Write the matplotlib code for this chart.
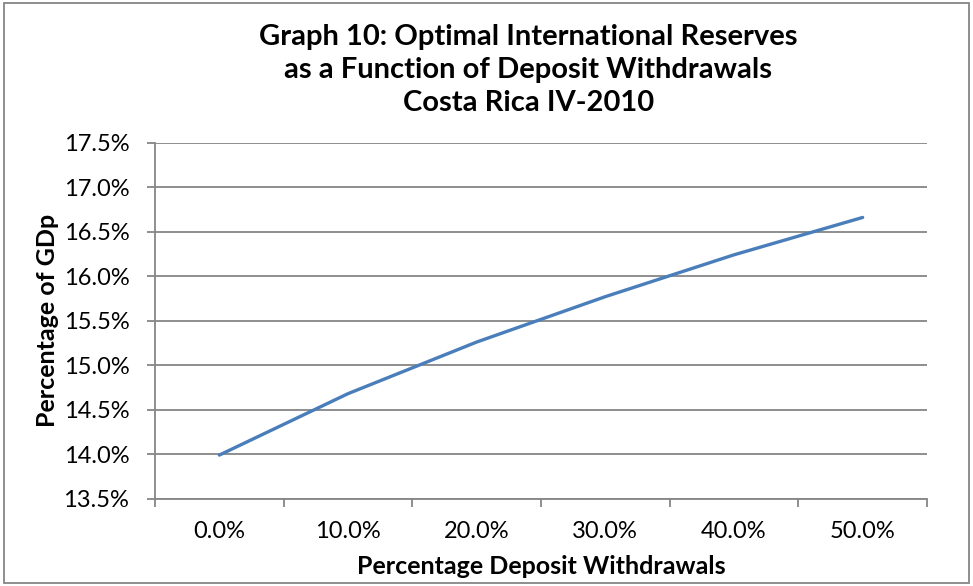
import matplotlib.pyplot as plt
import numpy as np
from matplotlib.patches import Rectangle
from matplotlib.ticker import FuncFormatter

# withdrawal scenarios and optimal reserves (% of GDP)
withdrawals = ['0.0%', '10.0%', '20.0%', '30.0%', '40.0%', '50.0%']
reserves = [13.99, 14.68, 15.26, 15.77, 16.24, 16.66]

plt.rcParams['font.family'] = ['Lato', 'DejaVu Sans']
grid_col = '#868686'

fig = plt.figure(figsize=(9.73, 5.86), dpi=100)
ax = fig.add_axes([0.1593, 0.149, 0.7934, 0.6075])

x = np.arange(len(withdrawals))
ax.plot(x, reserves, color='#4A7EBB', lw=2.4, solid_capstyle='round', zorder=3)

ax.set_xlim(-0.5, len(withdrawals) - 0.5)
ax.set_ylim(13.5, 17.5)
ax.set_yticks(np.arange(13.5, 17.51, 0.5))
ax.yaxis.set_major_formatter(FuncFormatter(lambda v, p: f'{v:.1f}%'))
ax.grid(axis='y', color=grid_col, lw=1.3)
ax.set_axisbelow(True)

# category boundaries carry the ticks, labels sit at the centres
ax.set_xticks(np.arange(-0.5, len(withdrawals), 1.0))
ax.set_xticklabels([])
ax.set_xticks(x, minor=True)
ax.set_xticklabels(withdrawals, minor=True)
ax.tick_params(axis='x', which='major', length=5.5, width=1.3, color=grid_col)
ax.tick_params(axis='x', which='minor', length=0, pad=16, labelsize=17)
ax.tick_params(axis='y', length=5.5, width=1.3, color=grid_col, labelsize=17, pad=13)

for s in ['top', 'right']:
    ax.spines[s].set_visible(False)
for s in ['left', 'bottom']:
    ax.spines[s].set_color(grid_col)
    ax.spines[s].set_linewidth(1.3)

ax.set_xlabel('Percentage Deposit Withdrawals', fontsize=18, fontweight='bold')
ax.set_ylabel('Percentage of GDp', fontsize=18, fontweight='bold')
ax.xaxis.set_label_coords(0.5, -0.158)
ax.yaxis.set_label_coords(-0.124, 0.5)

fig.text(0.543, 0.8805,
         'Graph 10: Optimal International Reserves\nas a Function of Deposit Withdrawals\nCosta Rica IV-2010',
         ha='center', va='center', fontsize=21, fontweight='bold', linespacing=1.32)

# outer chart border
fig.patches.append(Rectangle((0.004, 0.005), 0.992, 0.99, transform=fig.transFigure,
                             fill=False, edgecolor=grid_col, lw=1.3))

fig.savefig('out.png', dpi=100)
